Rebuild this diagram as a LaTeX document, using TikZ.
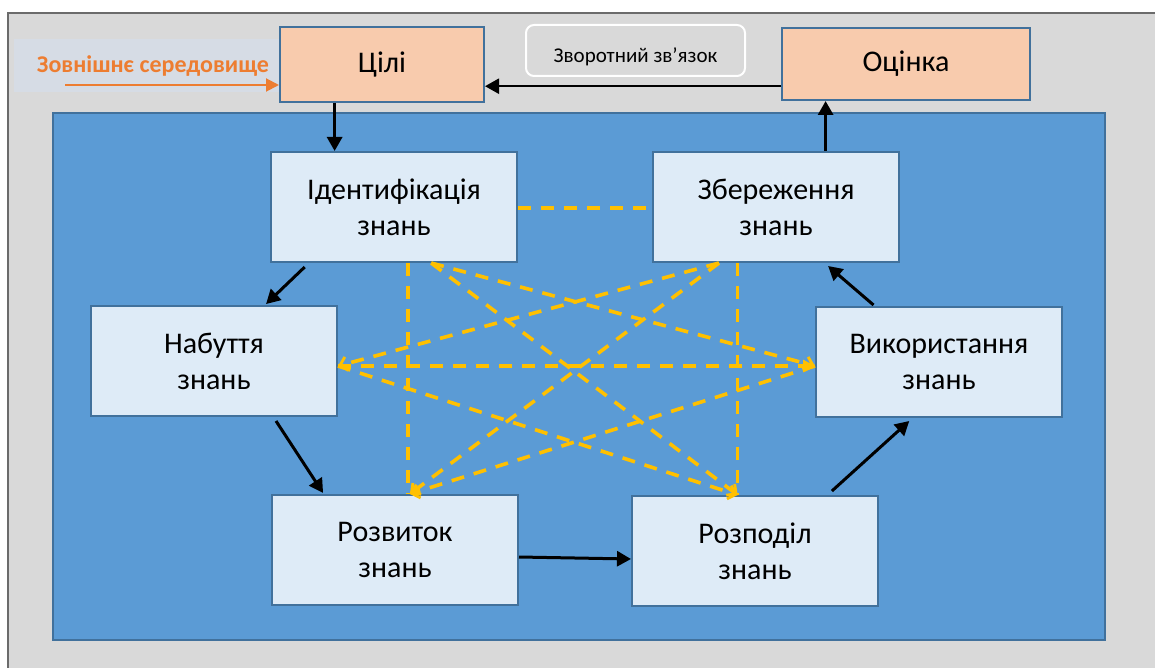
\documentclass[tikz,border=0pt]{standalone}
\usepackage{fontspec}
\setmainfont{Carlito}
\usetikzlibrary{arrows.meta,calc}

\definecolor{framegray}{HTML}{D9D9D9}
\definecolor{frameline}{HTML}{6B6B6B}
\definecolor{band}{HTML}{D6DCE5}
\definecolor{envorange}{HTML}{ED7D31}
\definecolor{peach}{HTML}{F8CBAD}
\definecolor{paleblue}{HTML}{DEEBF7}
\definecolor{edgeblue}{HTML}{41719C}
\definecolor{bigblue}{HTML}{5B9BD5}
\definecolor{dashyellow}{HTML}{FFC000}

\tikzset{
  stagebox/.style={draw=edgeblue, line width=1pt, fill=paleblue,
    minimum width=123pt, minimum height=55pt, align=center,
    font=\fontsize{15}{18}\selectfont},
  goalbox/.style={draw=edgeblue, line width=1pt, fill=peach,
    align=center, font=\fontsize{15}{18}\selectfont},
  feedbox/.style={draw=white, line width=1pt, fill=framegray,
    rounded corners=4pt, minimum width=109.5pt, minimum height=25.5pt,
    text height=7pt, text depth=0pt,
    font=\fontsize{10.5}{12}\selectfont},
  flow/.style={draw=black, line width=1.5pt,
    -{Triangle[length=7pt,width=7.5pt]}},
  envflow/.style={draw=envorange, line width=1pt,
    -{Triangle[length=6.5pt,width=6.5pt]}},
  link/.style={draw=dashyellow, line width=1.8pt, dash pattern=on 6.5pt off 5pt},
  linktip/.style={link, -{Straight Barb[length=3.5pt,width=7pt,line width=1.4pt]}},
  linkfill/.style={link, -{Triangle[length=6pt,width=6pt]}},
}

\begin{document}
\begin{tikzpicture}[x=0.5pt,y=-0.5pt]
\useasboundingbox (0,0) rectangle (1155,668);
\fill[white] (0,0) rectangle (1155,668);

% outer frame
\fill[framegray] (8,13) rectangle (1155,668);
\draw[frameline, line width=1.2pt] (8,668) -- (8,13) -- (1155,13);

% external environment band
\fill[band] (14,39) rectangle (280,92);

% knowledge management area
\fill[bigblue] (53,113) rectangle (1105,640);
\draw[edgeblue, line width=1.2pt] (53,113) rectangle (1105,640);

% top row
\node[goalbox, minimum width=102pt, minimum height=37.5pt] (goal) at (382,64.5) {Цілі};
\node[goalbox, minimum width=124pt, minimum height=36pt] (eval) at (906,64) {Оцінка};
\node[feedbox] (fb) at (635.5,50.5) {\raisebox{-2.5pt}{Зворотний зв’язок}};

\node[text=envorange, font=\bfseries\fontsize{12}{14}\selectfont] (env) at (153,66) {Зовнішнє середовище};
\coordinate (envstart) at (65,85);
\draw[envflow] (envstart) -- (goal.west |- envstart);

% stages of the cycle
\node[stagebox] (ident) at (394,207) {Ідентифікація\\знань};
\node[stagebox] (stor)  at (776,207) {Збереження\\знань};
\node[stagebox] (acq)   at (214,361) {Набуття\\знань};
\node[stagebox] (use)   at (939,362) {Використання\\знань};
\node[stagebox] (dev)   at (395,550) {Розвиток\\знань};
\node[stagebox] (dist)  at (755,551) {Розподіл\\знань};

% dashed links between stages
\coordinate (iA) at ($(ident.south west)!0.557!(ident.south east)$);
\coordinate (iB) at ($(ident.south west)!0.65!(ident.south east)$);
\coordinate (sA) at ($(stor.south west)!0.345!(stor.south east)$);
\coordinate (sB) at ($(stor.south west)!0.27!(stor.south east)$);
\coordinate (aR) at ($(acq.east)+(0,5)$);
\coordinate (uL) at ($(use.west)+(0,4)$);
\coordinate (dT) at ($(dev.north west)!0.56!(dev.north east)$);
\coordinate (rT) at ($(dist.north west)!0.43!(dist.north east)$);

\draw[link] (ident.east |- 0,208) -- (stor.west |- 0,208);
\draw[link] (iA) -- (iA |- dev.north);
\draw[link] (sA) -- (sA |- dist.north);
\draw[linkfill] (aR) -- (uL);
\draw[linktip] (iB) -- (uL);
\draw[linktip] (iB) -- (rT);
\draw[linktip] (sB) -- (aR);
\draw[linktip] (sB) -- (dT);
\draw[linktip] (aR) -- (rT);
\draw[linktip] (uL) -- (dT);

% main flow
\coordinate (g1) at ($(goal.south west)!0.27!(goal.south east)$);
\draw[flow] (g1) -- (g1 |- ident.north);

\coordinate (s1) at ($(stor.north west)!0.7!(stor.north east)$);
\draw[flow] (s1) -- (s1 |- eval.south);

\coordinate (e1) at ($(eval.north west)!0.8!(eval.south west)$);
\draw[flow, line width=1.2pt] (e1) -- (e1 -| goal.east);

\coordinate (i1) at ($(ident.south west)!0.14!(ident.south east)+(0,4)$);
\coordinate (a1) at ($(acq.north west)!0.71!(acq.north east)+(0,-1)$);
\draw[flow] (i1) -- (a1);

\coordinate (a2) at ($(acq.south west)!0.75!(acq.south east)+(0,4)$);
\coordinate (d1) at ($(dev.north west)!0.21!(dev.north east)+(0,-1)$);
\draw[flow] (a2) -- (d1);

\coordinate (d2) at ($(dev.east)+(0,7)$);
\coordinate (r1) at ($(dist.west)+(0,8)$);
\draw[flow] (d2) -- (r1);

\coordinate (r2) at ($(dist.north west)!0.81!(dist.north east)+(0,-4)$);
\coordinate (u1) at ($(use.south west)!0.38!(use.south east)+(0,3)$);
\draw[flow] (r2) -- (u1);

\coordinate (u2) at ($(use.north west)!0.236!(use.north east)+(0,-1)$);
\coordinate (s2) at ($(stor.south west)!0.71!(stor.south east)+(0,3)$);
\draw[flow] (u2) -- (s2);
\end{tikzpicture}
\end{document}
